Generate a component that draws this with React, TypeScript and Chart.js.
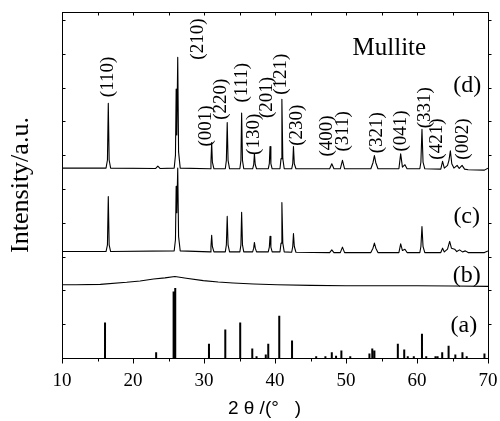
import { useEffect, useRef } from 'react';
import { Chart, registerables } from 'chart.js';
Chart.register(...registerables);

// ---- axis ranges ----
const xMin = 10;
const xMax = 70;
const xMajorStep = 10;
const xMinorStep = 5;
const yMin = 0;
const yMax = 10.24;

// ---- (d) pattern: [2theta, intensity] ----
const patternD: [number, number][] = [
  [10, 5.62], [16.2, 5.62], [16.4, 5.86], [16.52, 7.54], [16.64, 5.86], [16.85, 5.62],
  [23.2, 5.61], [23.5, 5.68], [23.8, 5.61],
  [25.8, 5.62], [25.98, 6.0], [26.08, 7.96], [26.17, 6.6], [26.3, 8.9], [26.42, 6.1], [26.65, 5.62],
  [30.85, 5.6], [30.98, 5.8], [31.08, 6.38], [31.18, 5.8], [31.4, 5.6],
  [33.0, 5.6], [33.15, 5.85], [33.27, 6.97], [33.39, 5.85], [33.6, 5.6],
  [35.05, 5.6], [35.2, 5.85], [35.3, 7.25], [35.42, 5.85], [35.6, 5.6],
  [36.85, 5.6], [37.0, 5.72], [37.1, 6.04], [37.22, 5.72], [37.4, 5.6],
  [39.05, 5.6], [39.2, 5.75], [39.3, 6.26], [39.42, 5.75], [39.6, 5.6],
  [40.7, 5.6], [40.85, 5.9], [40.97, 7.66], [41.1, 5.9], [41.3, 5.6],
  [42.35, 5.6], [42.5, 5.75], [42.6, 6.26], [42.72, 5.75], [42.95, 5.6],
  [47.7, 5.6], [48.0, 5.75], [48.3, 5.6],
  [49.2, 5.6], [49.5, 5.85], [49.8, 5.6],
  [53.5, 5.6], [53.8, 5.78], [54.0, 5.99], [54.2, 5.78], [54.5, 5.6],
  [57.45, 5.6], [57.7, 6.04], [57.95, 5.65], [58.3, 5.72], [58.6, 5.6],
  [60.4, 5.6], [60.55, 5.8], [60.7, 6.77], [60.85, 5.8], [61.1, 5.6],
  [63.35, 5.59], [63.6, 5.82], [63.85, 5.62], [64.3, 5.7], [64.5, 5.85], [64.7, 6.13], [64.9, 5.75],
  [65.2, 5.62], [65.65, 5.7], [65.95, 5.61], [66.35, 5.7], [66.7, 5.59], [67.2, 5.57],
  [69.5, 5.56], [70, 5.62],
];

// ---- (c) pattern ----
const patternC: [number, number][] = [
  [10, 3.15], [16.2, 3.15], [16.4, 3.35], [16.52, 4.78], [16.64, 3.35], [16.85, 3.15],
  [25.8, 3.17], [25.98, 3.5], [26.08, 5.08], [26.17, 4.3], [26.3, 5.62], [26.42, 3.6], [26.65, 3.17],
  [30.85, 3.14], [30.98, 3.3], [31.08, 3.63], [31.18, 3.3], [31.4, 3.14],
  [33.0, 3.14], [33.15, 3.35], [33.27, 4.19], [33.39, 3.35], [33.6, 3.14],
  [35.05, 3.14], [35.2, 3.35], [35.3, 4.31], [35.42, 3.35], [35.6, 3.14],
  [36.85, 3.14], [37.0, 3.25], [37.1, 3.42], [37.22, 3.25], [37.4, 3.14],
  [39.05, 3.14], [39.2, 3.28], [39.3, 3.6], [39.42, 3.28], [39.6, 3.14],
  [40.7, 3.14], [40.85, 3.4], [40.97, 4.6], [41.1, 3.4], [41.3, 3.14],
  [42.35, 3.13], [42.5, 3.3], [42.6, 3.68], [42.72, 3.3], [42.95, 3.13],
  [47.7, 3.12], [48.0, 3.2], [48.3, 3.12],
  [49.2, 3.12], [49.5, 3.28], [49.8, 3.12],
  [53.5, 3.12], [53.8, 3.25], [54.0, 3.4], [54.2, 3.25], [54.5, 3.12],
  [57.45, 3.12], [57.7, 3.38], [57.95, 3.18], [58.3, 3.22], [58.6, 3.12],
  [60.4, 3.12], [60.55, 3.3], [60.7, 3.89], [60.85, 3.3], [61.1, 3.12],
  [63.35, 3.12], [63.6, 3.25], [63.85, 3.14], [64.3, 3.22], [64.6, 3.45], [64.85, 3.25],
  [65.3, 3.22], [65.6, 3.15], [66.0, 3.2], [66.4, 3.14], [66.8, 3.17], [67.2, 3.12],
  [69.5, 3.12], [70, 3.17],
];

// ---- (b) amorphous pattern ----
const patternB: [number, number][] = [
  [10, 2.17], [12, 2.17], [15.4, 2.18], [19.1, 2.24], [21, 2.28], [22.9, 2.34], [24.5, 2.37],
  [25.9, 2.41], [27.5, 2.36], [29.9, 2.29], [32, 2.25], [34.1, 2.22], [37, 2.19], [40.3, 2.17],
  [45, 2.15], [50, 2.14], [55, 2.14], [60, 2.14], [65, 2.13], [70, 2.12],
];

// ---- (a) reference sticks ----
const stickPos = [
  16.06, 23.26, 25.72, 25.95, 30.7, 33.0, 35.1, 36.8, 37.4, 38.7, 39.05, 40.6, 42.4, 45.8, 47.1,
  48.0, 48.6, 49.35, 50.6, 53.3, 53.7, 54.0, 57.3, 58.2, 58.7, 59.55, 60.7, 61.3, 62.6, 62.9,
  63.55, 64.45, 65.4, 66.4, 67.0, 69.5,
];
const stickHeight = [
  1.05, 0.17, 1.97, 2.07, 0.42, 0.84, 1.05, 0.28, 0.05, 0.1, 0.42, 1.25, 0.52, 0.05, 0.05,
  0.17, 0.07, 0.22, 0.05, 0.13, 0.28, 0.22, 0.42, 0.25, 0.05, 0.05, 0.72, 0.05, 0.05, 0.05,
  0.17, 0.36, 0.1, 0.17, 0.05, 0.13,
];

// ---- annotations ----
const hklLabels = ['(110)', '(210)', '(001)', '(220)', '(111)', '(130)', '(201)', '(121)', '(230)', '(400)', '(311)', '(321)', '(041)', '(331)', '(421)', '(002)'];
const hklX = [16.45, 29.1, 30.26, 32.4, 35.4, 37.08, 38.87, 40.84, 43.1, 47.3, 49.6, 54.3, 57.7, 61.06, 62.85, 66.5];
const hklY = [7.72, 8.83, 6.26, 7.05, 7.56, 6.01, 7.1, 7.79, 6.28, 5.96, 6.11, 6.06, 6.11, 6.8, 5.87, 5.87];

const seriesNames = ['(d)', '(c)', '(b)', '(a)'];
const seriesNameX = [67.08, 67.0, 67.0, 66.6];
const seriesNameY = [8.05, 4.17, 2.44, 0.96];

const titleText = 'Mullite';
const titleX = 56.1;
const titleY = 8.97;

const xAxisTitle = '2 θ /(°   )    ';
const yAxisTitle = 'Intensity/a.u.';

const SERIF = '"Liberation Serif", "Times New Roman", serif';

const framePlugin = {
  id: 'framePlugin',
  afterDatasetsDraw(chart: any) {
    const { ctx, chartArea, scales } = chart;
    const { left, right, top, bottom } = chartArea;
    const xs = scales.x;
    const ys = scales.y;
    ctx.save();
    ctx.strokeStyle = '#000';
    ctx.lineWidth = 1;
    ctx.strokeRect(Math.round(left) + 0.5, Math.round(top) + 0.5, Math.round(right - left), Math.round(bottom - top));
    const seg = (x1: number, y1: number, x2: number, y2: number) => {
      ctx.beginPath();
      ctx.moveTo(x1, y1);
      ctx.lineTo(x2, y2);
      ctx.stroke();
    };
    const b = Math.round(bottom) + 0.5;
    const t = Math.round(top) + 0.5;
    const l = Math.round(left) + 0.5;
    const r = Math.round(right) + 0.5;
    for (let v = xMin; v <= xMax; v += xMinorStep) {
      const px = Math.round(xs.getPixelForValue(v)) + 0.5;
      const major = v % xMajorStep === 0;
      seg(px, b, px, b + (major ? 5 : 3));
      seg(px, t, px, t + 3);
    }
    for (let v = 1; v <= Math.floor(yMax); v++) {
      const py = Math.round(ys.getPixelForValue(v)) + 0.5;
      seg(l, py, l + 3, py);
      seg(r, py, r + 3, py);
    }

    ctx.fillStyle = '#000';
    // hkl labels (rotated)
    ctx.font = `19px ${SERIF}`;
    ctx.textAlign = 'left';
    ctx.textBaseline = 'middle';
    hklLabels.forEach((lab, i) => {
      const px = xs.getPixelForValue(hklX[i]);
      const py = ys.getPixelForValue(hklY[i]);
      ctx.save();
      ctx.translate(px, py);
      ctx.rotate(-Math.PI / 2);
      ctx.fillText(lab, 0, 0);
      ctx.restore();
    });
    // series names
    ctx.font = `24px ${SERIF}`;
    ctx.textAlign = 'center';
    ctx.textBaseline = 'middle';
    seriesNames.forEach((n, i) => {
      ctx.fillText(n, xs.getPixelForValue(seriesNameX[i]), ys.getPixelForValue(seriesNameY[i]));
    });
    // title
    ctx.font = `25px ${SERIF}`;
    ctx.textBaseline = 'alphabetic';
    ctx.fillText(titleText, xs.getPixelForValue(titleX), ys.getPixelForValue(titleY));
    ctx.restore();
  },
};

export default function App() {
  const ref = useRef<HTMLCanvasElement>(null);
  useEffect(() => {
    if (!ref.current) return;
    const toXY = (arr: [number, number][]) => arr.map(([x, y]) => ({ x, y }));
    const sticks: { x: number; y: number | null }[] = [];
    stickPos.forEach((p, i) => {
      sticks.push({ x: p, y: 0 }, { x: p, y: stickHeight[i] }, { x: p, y: null });
    });
    const lineDs = (label: string, data: any[], width: number) => ({
      label,
      data,
      borderColor: '#000',
      backgroundColor: '#000',
      borderWidth: width,
      pointRadius: 0,
      tension: 0,
      fill: false,
      spanGaps: false,
      borderJoinStyle: 'round' as const,
    });
    const chart = new Chart(ref.current, {
      type: 'line',
      data: {
        datasets: [
          lineDs('(d)', toXY(patternD), 1.1),
          lineDs('(c)', toXY(patternC), 1.1),
          lineDs('(b)', toXY(patternB), 1.1),
          lineDs('(a)', sticks, 2),
        ],
      },
      options: {
        responsive: false,
        animation: false,
        devicePixelRatio: 1,
        layout: { padding: { top: 12, right: 12, left: 0, bottom: 0 } },
        plugins: { legend: { display: false }, tooltip: { enabled: false } },
        scales: {
          x: {
            type: 'linear',
            min: xMin,
            max: xMax,
            grid: { display: false, drawTicks: false },
            border: { display: false },
            ticks: {
              stepSize: xMajorStep,
              padding: 12,
              color: '#000',
              font: { family: SERIF, size: 19 },
              maxRotation: 0,
            },
            title: {
              display: true,
              text: xAxisTitle,
              color: '#000',
              font: { family: '"Liberation Sans", Arial, sans-serif', size: 19, lineHeight: 1 },
              padding: { top: 0, bottom: 3 },
            },
            afterFit: (s: any) => {
              s.height = 63;
              s.paddingLeft = 0;
              s.paddingRight = 0;
            },
          },
          y: {
            type: 'linear',
            min: yMin,
            max: yMax,
            grid: { display: false, drawTicks: false },
            border: { display: false },
            ticks: { display: false },
            title: {
              display: true,
              text: yAxisTitle,
              color: '#000',
              font: { family: SERIF, size: 26, lineHeight: 1.2 },
              padding: { top: 6, bottom: 0 },
            },
            afterFit: (s: any) => {
              s.width = 62;
              s.paddingTop = 0;
              s.paddingBottom = 0;
            },
          },
        },
      },
      plugins: [framePlugin],
    });
    return () => chart.destroy();
  }, []);
  return (
    <div style={{ position: 'fixed', left: 0, top: 0, width: 500, height: 421, background: '#fff' }}>
      <canvas ref={ref} width={500} height={421} style={{ display: 'block' }} />
    </div>
  );
}
